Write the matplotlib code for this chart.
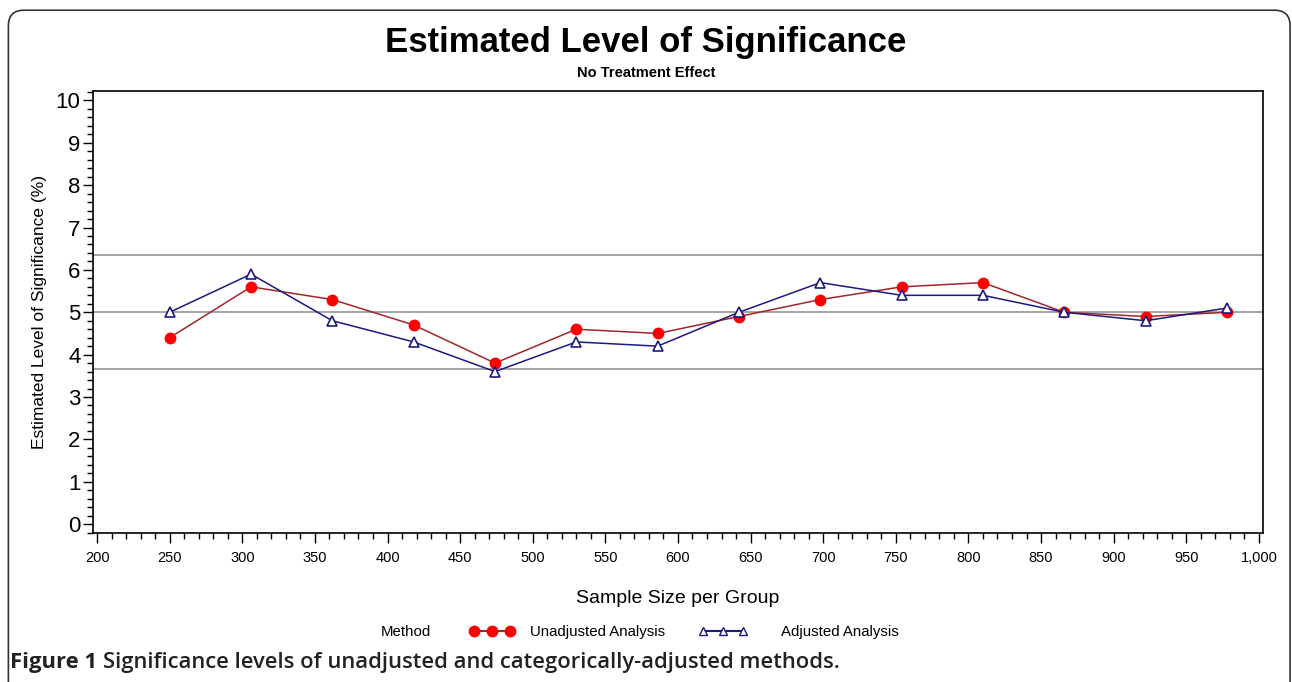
import matplotlib
matplotlib.use("Agg")
import matplotlib.pyplot as plt
from matplotlib.patches import FancyBboxPatch
from matplotlib.lines import Line2D
from matplotlib.ticker import MultipleLocator, FuncFormatter

# data
sample_size = [250, 306, 362, 418, 474, 530, 586, 642, 698, 754, 810, 866, 922, 978]
unadjusted = [4.4, 5.6, 5.3, 4.7, 3.8, 4.6, 4.5, 4.9, 5.3, 5.6, 5.7, 5.0, 4.9, 5.0]
adjusted = [5.0, 5.9, 4.8, 4.3, 3.6, 4.3, 4.2, 5.0, 5.7, 5.4, 5.4, 5.0, 4.8, 5.1]
ref_lines = [3.65, 5.0, 6.35]
series_names = ['Unadjusted Analysis', 'Adjusted Analysis']

plt.rcParams['font.family'] = ['Liberation Sans', 'DejaVu Sans']

red_line, red_mark = '#a0262a', '#ff0000'
blue = '#1a1a80'

fig = plt.figure(figsize=(12.92, 6.82), dpi=100)
ax = fig.add_axes([0.072, 0.2185, 0.9055, 0.6485])

# rounded outer frame (bottom edge runs off the image like the reference)
box = FancyBboxPatch((0.0065, -0.03), 0.992, 1.015, boxstyle="round,pad=0,rounding_size=0.012",
                     transform=fig.transFigure, fill=False, edgecolor='#333333', linewidth=1.2,
                     mutation_aspect=1292/682)
fig.patches.append(box)

for yv in ref_lines:
    ax.axhline(yv, color='#8c8c8c', linewidth=1.1, zorder=1)

ax.plot(sample_size, unadjusted, color=red_line, linewidth=1.1, marker='o', markersize=7.5,
        markerfacecolor=red_mark, markeredgecolor=red_mark, zorder=3)
ax.plot(sample_size, adjusted, color=blue, linewidth=1.1, marker='^', markersize=7.5,
        markerfacecolor='white', markeredgecolor=blue, markeredgewidth=1.2, zorder=4)

ax.set_xlim(197.2, 1002.8)
ax.set_ylim(-0.21, 10.23)
ax.xaxis.set_major_locator(MultipleLocator(50))
ax.xaxis.set_minor_locator(MultipleLocator(10))
ax.yaxis.set_major_locator(MultipleLocator(1))
ax.yaxis.set_minor_locator(MultipleLocator(0.2))
ax.xaxis.set_major_formatter(FuncFormatter(lambda v, p: f"{int(v):,}"))
ax.tick_params(axis='x', which='major', length=7, width=1, labelsize=10.5, pad=6)
ax.tick_params(axis='x', which='minor', length=4, width=1)
ax.tick_params(axis='y', which='major', length=7, width=1, labelsize=16, pad=2)
ax.tick_params(axis='y', which='minor', length=4, width=1)
for s in ax.spines.values():
    s.set_linewidth(1.2)

ax.set_xlabel('Sample Size per Group', fontsize=14, labelpad=18)
ax.set_ylabel('Estimated Level of Significance (%)', fontsize=12.5, labelpad=6)

fig.text(0.5, 0.938, 'Estimated Level of Significance', ha='center', va='center',
         fontsize=25, fontweight='bold')
fig.text(0.5, 0.893, 'No Treatment Effect', ha='center', va='center',
         fontsize=10.5, fontweight='bold')

# legend: label plus two entries
fig.text(0.295, 0.073, 'Method', ha='left', va='center', fontsize=10.8)
h_red = Line2D([], [], color=red_line, marker='o', markersize=7.5, markerfacecolor=red_mark,
               markeredgecolor=red_mark)
h_blue = Line2D([], [], color=blue, marker='^', markersize=6, markerfacecolor='white',
                markeredgecolor=blue)
fig.legend([h_red], [series_names[0]], loc='center left', bbox_to_anchor=(0.3635, 0.073),
           frameon=False, fontsize=10.8, numpoints=3, handlelength=3.0, handletextpad=1.0,
           borderpad=0, borderaxespad=0)
fig.legend([h_blue], [series_names[1]], loc='center left', bbox_to_anchor=(0.5405, 0.073),
           frameon=False, fontsize=10.8, numpoints=3, handlelength=3.3, handletextpad=2.2,
           borderpad=0, borderaxespad=0)

# caption
t1 = fig.text(0.008, 0.028, 'Figure 1', ha='left', va='center', fontsize=15.8,
              fontweight='bold', family=['Open Sans', 'DejaVu Sans'], color='#222222')
fig.canvas.draw()
ext = t1.get_window_extent(renderer=fig.canvas.get_renderer())
x2 = (ext.x1 + 6) / fig.bbox.width
fig.text(x2, 0.028, 'Significance levels of unadjusted and categorically-adjusted methods.',
         ha='left', va='center', fontsize=15.8, fontweight='semibold',
         family=['Open Sans', 'DejaVu Sans'], color='#222222')

fig.savefig('out.png', dpi=100)
